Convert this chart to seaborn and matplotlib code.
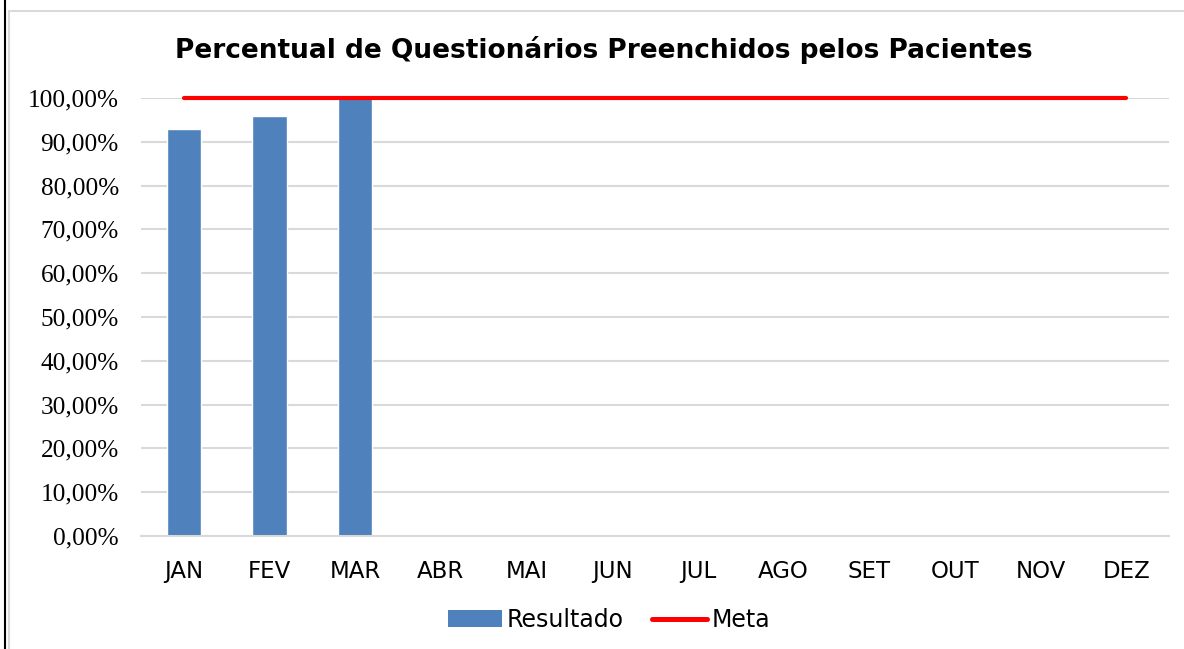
import numpy as np
import pandas as pd
import matplotlib
matplotlib.use("Agg")
import matplotlib.pyplot as plt
import seaborn as sns
from matplotlib.patches import Patch, Rectangle
from matplotlib.lines import Line2D
from matplotlib.ticker import FuncFormatter

months = ["JAN", "FEV", "MAR", "ABR", "MAI", "JUN", "JUL", "AGO", "SET", "OUT", "NOV", "DEZ"]
resultado = [0.93, 0.958, 1.0, np.nan, np.nan, np.nan, np.nan, np.nan, np.nan, np.nan, np.nan, np.nan]
meta = [1.0] * 12
yticks = [0.0, 0.1, 0.2, 0.3, 0.4, 0.5, 0.6, 0.7, 0.8, 0.9, 1.0]
title = "Percentual de Questionários Preenchidos pelos Pacientes"

sns.set_theme(style="white")
plt.rcParams['font.family'] = ['DejaVu Sans']

W, H = 1184, 649
fig = plt.figure(figsize=(W / 100, H / 100), dpi=100)
ax = fig.add_axes([141 / W, 1 - 536 / H, (1169 - 141) / W, (536 - 98) / H])

df = pd.DataFrame({"mes": months, "Resultado": resultado})
sns.barplot(data=df, x="mes", y="Resultado", order=months, color="#4f81bd",
            saturation=1, width=0.4, ax=ax, zorder=2)
sns.lineplot(x=np.arange(len(months)), y=meta, color="#ff0000", linewidth=3.0,
             ax=ax, zorder=3, solid_capstyle="round", clip_on=False)

ax.set_ylim(0, 1.0)
ax.set_xlim(-0.5, len(months) - 0.5)
ax.set_yticks(yticks)
ax.yaxis.set_major_formatter(FuncFormatter(lambda v, p: f"{v*100:.2f}%".replace(".", ",")))
ax.grid(axis="y", color="#d9d9d9", linewidth=1.5, zorder=0)
ax.grid(axis="x", visible=False)
ax.set_axisbelow(True)
for s in ["top", "right", "left"]:
    ax.spines[s].set_visible(False)
ax.spines["bottom"].set_color("#d9d9d9")
ax.spines["bottom"].set_linewidth(1.5)
ax.set_xlabel("")
ax.set_ylabel("")
ax.tick_params(axis="both", length=0)
ax.tick_params(axis="x", pad=17)
ax.tick_params(axis="y", pad=16)
for lab in ax.get_yticklabels():
    lab.set_fontfamily("Liberation Serif")
    lab.set_fontsize(18.2)
    lab.set_color("#000000")
for lab in ax.get_xticklabels():
    lab.set_fontfamily("DejaVu Sans")
    lab.set_fontsize(16.5)
    lab.set_color("#000000")

fig.text(604 / W, 1 - 50 / H, title, ha="center", va="center",
         fontsize=19, fontweight="bold", color="#000000", family="DejaVu Sans")

handles = [Patch(facecolor="#4f81bd", edgecolor="none", label="Resultado"),
           Line2D([0], [0], color="#ff0000", linewidth=3.6, solid_capstyle="round", label="Meta")]
fig.legend(handles=handles, loc="center", bbox_to_anchor=(609 / W, 1 - 620 / H), ncol=2,
           frameon=False, prop={"family": "DejaVu Sans", "size": 17},
           handlelength=2.3, handletextpad=0.2, columnspacing=1.2, labelcolor="#000000")

# chart frame
fig.add_artist(Rectangle((9 / W, -0.05), 1.1, 1 - 11 / H + 0.05, transform=fig.transFigure,
                         fill=False, edgecolor="#d9d9d9", linewidth=1.5))
fig.add_artist(Line2D([4.5 / W, 4.5 / W], [0, 1], transform=fig.transFigure,
                      color="#000000", linewidth=1.5))

fig.savefig("out.png", dpi=100, facecolor="white")
